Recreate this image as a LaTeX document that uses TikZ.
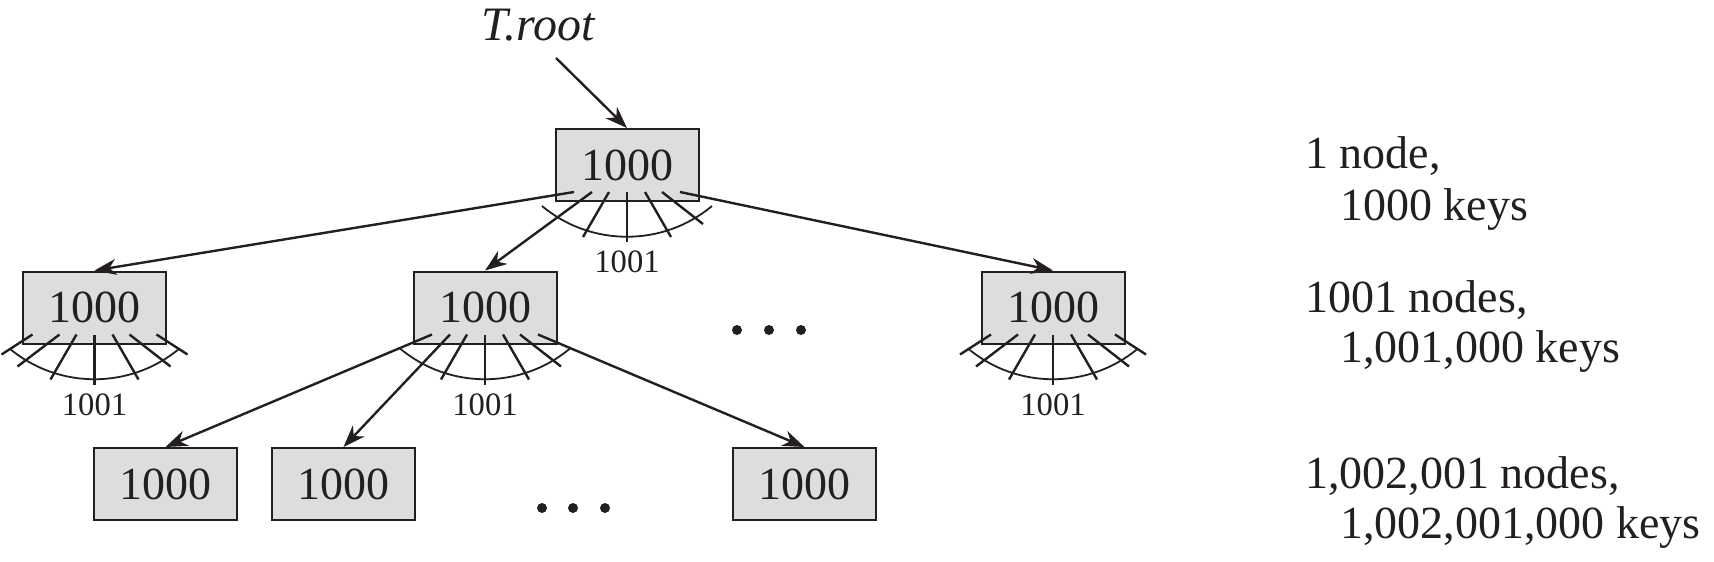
\documentclass[tikz,border=0pt]{standalone}
\usepackage{fontspec}
\setmainfont{Liberation Serif}
\usetikzlibrary{arrows.meta}

\definecolor{boxgray}{RGB}{220,221,223}
\definecolor{linecol}{RGB}{35,31,32}

\tikzset{
  keybox/.style={draw=linecol, line width=1pt, fill=boxgray, minimum width=71.5pt,
    minimum height=36pt, inner sep=0pt, font=\fontsize{23}{27}\selectfont},
  ptr/.style={line width=1.2pt, -{Stealth[length=11pt, width=8pt, inset=3.5pt]}},
  fanline/.style={line width=1.2pt},
  fanarc/.style={line width=0.9pt},
  cnt/.style={font=\fontsize{16.3}{19}\selectfont, inner sep=0pt},
  info/.style={anchor=base west, inner sep=0pt, font=\fontsize{23}{27}\selectfont},
}

\begin{document}
\begin{tikzpicture}[x=0.5pt, y=-0.5pt, color=linecol]
    \useasboundingbox (0,0) rectangle (1714,562);

    % levels of the tree
    \node[keybox] (root) at (627,165) {1000};
    \node[keybox] (lt) at (94.5,307.5) {1000};
    \node[keybox] (md) at (485,307.5) {1000};
    \node[keybox] (rt) at (1053,307.5) {1000};
    \node[keybox] (ba) at (165.5,484) {1000};
    \node[keybox] (bb) at (343.5,484) {1000};
    \node[keybox] (bc) at (804.5,484) {1000};

    % fan of children pointers
    \foreach \n in {root, lt, md, rt} {
        \draw[fanarc] ([shift={(-85,4)}]\n.south) .. controls +(49,41) and +(-49,41) .. ([shift={(85,4)}]\n.south);
        \draw[fanline] ([shift={(0,-10)}]\n.south) -- ([shift={(0,40)}]\n.south);
        \draw[fanline] ([shift={(-18,-10)}]\n.south) -- ([shift={(-44,35)}]\n.south);
        \draw[fanline] ([shift={(18,-10)}]\n.south) -- ([shift={(44,35)}]\n.south);
        \draw[fanline] ([shift={(35,-10)}]\n.south) -- ([shift={(76,22)}]\n.south);
        \node[cnt] (\n-cnt) at ([shift={(0,60)}]\n.south) {1001};
    }
    \foreach \n in {lt, rt} { % no arrows here
        \draw[fanline] ([shift={(-35,-10)}]\n.south) -- ([shift={(-77,22)}]\n.south);
        \draw[fanline] ([shift={(-62,-10)}]\n.south) -- ([shift={(-93,10)}]\n.south);
        \draw[fanline] ([shift={(62,-10)}]\n.south) -- ([shift={(93,10)}]\n.south);
    }

    % pointers
    \draw[ptr] ([shift={(-53,-10)}]root.south) -- (lt.north);
    \draw[ptr] ([shift={(-35,-10)}]root.south) -- (md.north);
    \draw[ptr] ([shift={(53,-10)}]root.south) -- (rt.north);
    \draw[ptr] ([shift={(-53,-10)}]md.south) -- (ba.north);
    \draw[ptr] ([shift={(-35,-10)}]md.south) -- (bb.north);
    \draw[ptr] ([shift={(53,-10)}]md.south) -- (bc.north);

    % T.root
    \node[font=\fontsize{24}{28}\selectfont\itshape, anchor=base, inner sep=0pt] (tname) at (538,40) {T.root};
    \coordinate (tfrom) at (556,58);
    \draw[ptr] (tfrom) -- (root.north);

    % dots
    \foreach \x in {737,769,801} \fill (\x,330) circle (2.5pt);
    \foreach \x in {542,573,605} \fill (\x,508) circle (2.5pt);

    % counts
    \node[info] (l0a) at (1305,168) {1 node,};
    \node[info] (l0b) at (1340,220) {1000 keys};
    \node[info] (l1a) at (1305,312) {1001 nodes,};
    \node[info] (l1b) at (1340,362) {1,001,000 keys};
    \node[info] (l2a) at (1305,488) {1,002,001 nodes,};
    \node[info] (l2b) at (1340,538) {1,002,001,000 keys};
\end{tikzpicture}
\end{document}
